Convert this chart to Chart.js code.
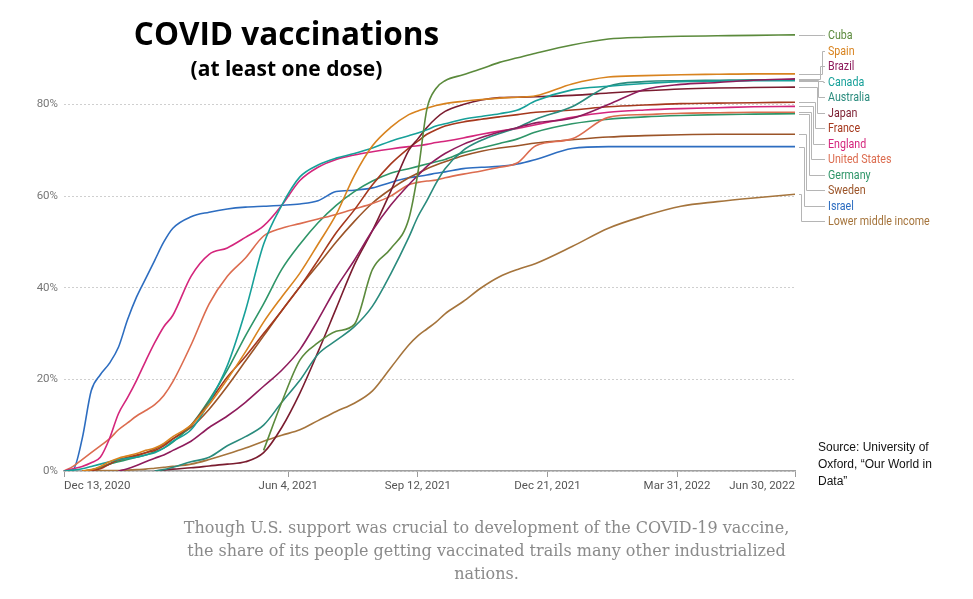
<!DOCTYPE html>
<html>
<head>
<meta charset="utf-8">
<script src="https://cdn.jsdelivr.net/npm/chart.js@4.4.1/dist/chart.umd.min.js"></script>
<style>
  body { margin: 0; width: 973px; height: 599px; position: relative; background: #fff; overflow: hidden; }
  #chart { position: absolute; left: 0; top: 0; }
  .title { position: absolute; left: 0; width: 573px; text-align: center; font-family: 'Open Sans', sans-serif; font-weight: 700; color: #000; }
  .lbl { position: absolute; left: 828px; font-family: Roboto, sans-serif; font-size: 13px; line-height: 14px; white-space: nowrap; transform: scaleX(0.82); transform-origin: 0 0; }
  .source { position: absolute; left: 818px; top: 439px; font-family: 'Liberation Sans', Arial, sans-serif; font-size: 12px; line-height: 17px; color: #111; }
  .caption { position: absolute; left: 0; width: 973px; top: 516px; text-align: center; font-family: 'DejaVu Serif', serif; font-size: 16px; line-height: 23px; color: #8a8a8a; }
</style>
</head>
<body>
<canvas id="chart" width="973" height="599"></canvas>
<div class="title" style="top:12px;font-size:31.5px;line-height:42px;">COVID vaccinations</div>
<div class="title" style="top:54px;font-size:21px;line-height:28px;">(at least one dose)</div>
<div class="source">Source: University of<br>Oxford, “Our World in<br>Data”</div>
<div class="caption">Though U.S. support was crucial to development of the COVID-19 vaccine,<br>the share of its people getting vaccinated trails many other industrialized<br>nations.</div>
<div id="labels"></div>
<script>
// days since Dec 13, 2020
const days = [0,7,14,21,28,35,42,49,56,63,70,77,84,98,112,126,140,154,168,182,196,210,224,238,252,266,273,280,287,294,308,322,336,350,364,392,420,448,476,504,532,564];
const tickDays = [0,173,273,373,473,564];
const tickLabels = ['Dec 13, 2020','Jun 4, 2021','Sep 12, 2021','Dec 21, 2021','Mar 31, 2022','Jun 30, 2022'];
const yTicks = [0,20,40,60,80];

// share with at least one dose, %
const cuba = [null,null,null,null,null,null,null,null,null,null,null,null,null,null,null,null,null,4.5,15,24.2,28,30.5,32,44,48.5,55,65,79,83.5,85.2,86.5,87.8,89.2,90.2,91.2,93,94.3,94.7,94.9,95,95.1,95.2];
const spain = [null,null,0,0.3,1,2,2.8,3.3,3.8,4.5,5,6,7.5,10,14.5,20,26,32.5,38,43.2,49.5,56,64.5,71,75,77.8,78.6,79.2,79.8,80.2,80.7,81.1,81.4,81.6,81.9,84.5,86,86.3,86.5,86.6,86.7,86.7];
const brazil = [null,null,null,null,null,null,0,0.5,1.2,2,2.8,3.5,4.5,6.5,9.5,12,15,18.5,22,26.5,33,40,46,52.5,58,62.5,64.5,66.5,68,69.3,71.3,72.8,74,75,76,77,80,83.3,84.4,84.8,85.3,85.6];
const canada = [0,0.2,0.5,1,1.5,2,2.5,2.8,3,3.5,4,5,6.5,9,15,23,35,49.5,58,64.2,66.8,68.3,69.3,70.5,72,73.2,73.8,74.5,75.3,75.8,76.8,77.4,78,78.8,80.8,83.2,84,84.6,85,85.1,85.2,85.2];
const australia = [null,null,null,null,null,null,null,null,null,null,0,0.3,0.8,2,3,5.5,7.5,10,15,19.8,25.5,28.5,31.5,36,43,51,55.5,59,62.8,66,70,72.2,73.7,75,76.8,79.5,84,85,85.2,85.3,85.4,85.4];
const japan = [null,null,null,null,null,null,null,null,null,null,0,0.2,0.4,0.7,1.1,1.5,2,4,9.5,17,26,35.5,45,52.5,61,70,72.5,75,77,78.5,80,81,81.5,81.6,81.7,82,82.5,83,83.4,83.6,83.7,83.8];
const france = [null,null,0,0.1,0.5,1.5,2.5,3,3.5,4,4.5,5.5,7,10,15,20.5,25,30,35,40.2,46,52,57,62.5,67,70.5,72,73.5,74.5,75.3,76.2,76.8,77.3,77.8,78.3,78.8,79.5,79.9,80.2,80.3,80.4,80.5];
const england = [0,0.5,1,1.8,3,7,12.5,16,19.8,24,28,31.5,34,42.5,47.3,48.7,51,53.5,58,63.4,66.3,68,69,69.7,70.3,70.8,71,71.3,71.7,72,72.7,73.5,74.2,74.8,75.6,77.2,78.3,78.8,79.1,79.3,79.5,79.6];
const unitedStates = [0,1,2.5,4,5.5,7,9,10.5,12,13.2,14.5,16.5,19.5,27.5,36.5,42.5,46.5,51.3,53,54,55,56,57.2,58.4,60,62.5,63,63.3,63.5,64,64.8,65.5,66.3,67.3,71,72.5,77.2,77.8,78.1,78.2,78.3,78.3];
const germany = [null,null,0,0.2,0.8,1.5,2,2.5,3,3.5,4.2,5,6.3,10,15.5,22,29.5,36.5,44,49.5,54.2,58,61,63.3,65,66,66.5,67,67.5,68,69.5,70.5,71.5,72.5,74,75.8,76.8,77.3,77.6,77.8,77.9,78];
const sweden = [null,null,0,0.2,0.8,1.5,2.2,2.8,3.3,4,4.8,5.8,7,9.5,13.5,18.5,24,29.5,35,40.2,45,50,54.5,58.5,61.5,64,65,66,66.8,67.5,68.8,69.8,70.5,71,71.6,72.3,72.9,73.2,73.4,73.5,73.5,73.5];
const israel = [0,0.3,7,17.5,21,23.5,27,33,38,42,46,50,53,55.5,56.5,57.2,57.6,57.8,58,58.3,59,61,61.3,61.8,63,64,64.3,64.6,65,65.3,66,66.3,66.5,67,68,70.4,70.8,70.8,70.8,70.8,70.8,70.8];
const lowerMiddle = [null,null,0,0.05,0.1,0.1,0.1,0.2,0.3,0.4,0.6,0.8,1,1.5,2.5,3.7,5,6.5,7.8,9,11,13,14.8,17.5,22.5,27.5,29.5,31,32.5,34.3,37,40,42.4,44,45.3,49,53,55.7,57.8,58.8,59.6,60.4];

const countries = ['Cuba','Spain','Brazil','Canada','Australia','Japan','France','England','United States','Germany','Sweden','Israel','Lower middle income'];
const seriesList = [cuba,spain,brazil,canada,australia,japan,france,england,unitedStates,germany,sweden,israel,lowerMiddle];
const colors = ['#5b8a3c','#d8831f','#8e1c5c','#17a099','#2a8b7d','#7a1c2f','#a5381d','#d4267c','#dc6c4f','#2e9568','#9b5428','#2d6dc0','#a5743c'];

// legend label layout
const labelTop = 35, labelStep = 15.5;
const elbowX = [823,821.5,819.5,823,818,816.5,814.5,812.5,810.5,808.5,806,803.5,801];

const labelBox = document.getElementById('labels');
countries.forEach((name, i) => {
  const d = document.createElement('div');
  d.className = 'lbl';
  d.textContent = name;
  d.style.color = colors[i];
  d.style.top = (labelTop + i * labelStep - 7) + 'px';
  labelBox.appendChild(d);
});

const leaders = {
  id: 'leaders',
  afterDraw(chart) {
    const y = chart.scales.y;
    const ctx = chart.ctx;
    ctx.save();
    ctx.strokeStyle = '#b5b5b5';
    ctx.lineWidth = 1;
    seriesList.forEach((s, i) => {
      const endY = Math.round(y.getPixelForValue(s[s.length - 1])) + 0.5;
      const ly = Math.round(labelTop + i * labelStep) + 0.5;
      const ex = Math.round(elbowX[i]) + 0.5;
      ctx.beginPath();
      ctx.moveTo(799, endY);
      ctx.lineTo(ex, endY);
      ctx.lineTo(ex, ly);
      ctx.lineTo(825, ly);
      ctx.stroke();
    });
    ctx.restore();
  }
};

const tickFont = { family: 'Roboto, sans-serif', size: 11.5 };

new Chart(document.getElementById('chart'), {
  type: 'line',
  data: {
    datasets: countries.map((name, i) => ({
      label: name,
      data: days.map((d, k) => ({ x: d, y: seriesList[i][k] })),
      borderColor: colors[i],
      backgroundColor: colors[i],
      borderWidth: 1.6,
      pointRadius: 0,
      cubicInterpolationMode: 'monotone',
      fill: false
    }))
  },
  options: {
    responsive: false,
    animation: false,
    events: [],
    layout: { padding: { top: 12.25, right: 178, bottom: 106, left: 0 } },
    plugins: { legend: { display: false }, tooltip: { enabled: false } },
    scales: {
      x: {
        type: 'linear', min: 0, max: 564,
        afterBuildTicks: s => { s.ticks = tickDays.map(v => ({ value: v })); },
        afterFit: s => { s.height = 22; },
        ticks: {
          autoSkip: false, maxRotation: 0, align: 'inner', padding: 2,
          color: '#555', font: tickFont,
          callback: (v, i) => tickLabels[i]
        },
        grid: { drawOnChartArea: false, drawTicks: true, tickLength: 6, color: '#9a9a9a' },
        border: { color: '#a0a0a0', width: 1.5 }
      },
      y: {
        min: 0, max: 100,
        afterBuildTicks: s => { s.ticks = yTicks.map(v => ({ value: v })); },
        afterFit: s => { s.width = 64; },
        ticks: { padding: 6, color: '#777', font: tickFont, callback: v => v + '%' },
        grid: { color: '#cfcfcf', drawTicks: false },
        border: { display: false, dash: [2, 2] }
      }
    }
  },
  plugins: [leaders]
});
</script>
</body>
</html>
